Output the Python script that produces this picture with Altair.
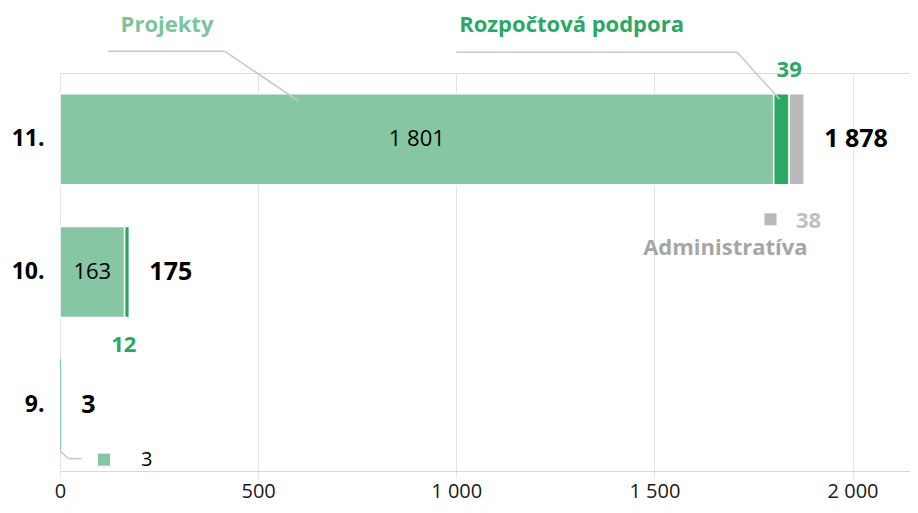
import altair as alt
import pandas as pd

categories = ["11.", "10.", "9."]
series = ["Projekty", "Rozpočtová podpora", "Administratíva"]
projekty = [1801, 163, 3]
rozpoctova = [39, 12, 0]
administrativa = [38, 0, 0]
bar_colors = ["#86C6A2", "#2BA866", "#B9B9B9"]
name_colors = ["#7CC499", "#2BA866", "#A6A6A6"]
x_ticks = [0, 500, 1000, 1500, 2000]

FONT = "Open Sans"

rows = []
for i, c in enumerate(categories):
    for j, vals in enumerate([projekty, rozpoctova, administrativa]):
        rows.append({"cat": c, "series": series[j], "value": vals[i], "order": j})
df = pd.DataFrame(rows)
totals = pd.DataFrame({
    "cat": categories,
    "total": [p + r + a for p, r, a in zip(projekty, rozpoctova, administrativa)],
})

xs = alt.Scale(domain=[0, 2145], nice=False, zero=True)
ys = alt.Scale(domain=categories, paddingInner=0.314, paddingOuter=0.157)
fmt = "replace(format(datum.v, ','), ',', ' ')"

bars = alt.Chart(df).transform_filter("datum.value > 0").mark_bar(strokeWidth=1.5).encode(
    x=alt.X("value:Q", scale=xs, stack="zero", title=None,
            axis=alt.Axis(values=x_ticks, grid=True, gridColor="#E3E3E3",
                          tickColor="#E3E3E3", tickSize=7, domainColor="#D9D9D9",
                          labelFontSize=20, labelColor="#1A1A1A", labelFont=FONT,
                          labelPadding=3, labelFlush=False,
                          labelExpr="replace(datum.label, ',', ' ')")),
    y=alt.Y("cat:N", scale=ys, sort=categories, title=None,
            axis=alt.Axis(ticks=False, domain=False, grid=False, labelFontSize=23,
                          labelFontWeight="bold", labelColor="#000000", labelFont=FONT,
                          labelPadding=16)),
    color=alt.Color("series:N", scale=alt.Scale(domain=series, range=bar_colors), legend=None),
    stroke=alt.condition("datum.value >= 10", alt.value("white"), alt.value("transparent")),
    order=alt.Order("order:Q"),
)

# value of Projekty segments written inside the bar
inside_df = pd.DataFrame({"cat": categories[:2], "v": projekty[:2]})
inside = alt.Chart(inside_df).transform_calculate(
    mid="datum.v / 2", t=fmt
).mark_text(font=FONT, fontSize=22, color="#000000").encode(
    x=alt.X("mid:Q", scale=xs), y=alt.Y("cat:N", scale=ys, sort=categories), text="t:N"
)

total_text = alt.Chart(totals).transform_calculate(
    v="datum.total", t=fmt
).mark_text(font=FONT, fontSize=25, fontWeight="bold", color="#000000",
            align="left", dx=20).encode(
    x=alt.X("total:Q", scale=xs), y=alt.Y("cat:N", scale=ys, sort=categories), text="t:N"
)

def note(cat, x, text, dy, size, color, weight="bold"):
    d = pd.DataFrame({"cat": [cat], "x": [x], "t": [text]})
    return alt.Chart(d).mark_text(font=FONT, fontSize=size, fontWeight=weight,
                                  color=color, dy=dy).encode(
        x=alt.X("x:Q", scale=xs), y=alt.Y("cat:N", scale=ys, sort=categories), text="t:N"
    )

def square(cat, x, dy, color):
    d = pd.DataFrame({"cat": [cat], "x": [x]})
    return alt.Chart(d).mark_square(size=144, opacity=1, color=color, yOffset=dy).encode(
        x=alt.X("x:Q", scale=xs), y=alt.Y("cat:N", scale=ys, sort=categories)
    )

def leader(cat, x1, x2, dy1, dy2):
    d = pd.DataFrame({"cat": [cat], "x1": [x1], "x2": [x2]})
    return alt.Chart(d).mark_rule(color="#C8C8C8", strokeWidth=1.5,
                                  yOffset=dy1, y2Offset=dy2).encode(
        x=alt.X("x1:Q", scale=xs), x2="x2:Q",
        y=alt.Y("cat:N", scale=ys, sort=categories), y2="cat:N"
    )

layers = [
    bars, inside, total_text,
    note("11.", 270, series[0], -114, 22, name_colors[0]),
    note("11.", 1291, series[1], -114, 22, name_colors[1]),
    note("11.", 1679, series[2], 109, 22, name_colors[2]),
    note("11.", 1840, str(rozpoctova[0]), -69, 22, name_colors[1]),
    note("10.", 161, str(rozpoctova[1]), 73, 22, name_colors[1]),
    note("11.", 1889, str(administrativa[0]), 82, 22, "#BFBFBF"),
    square("11.", 1793, 80, "#B9B9B9"),
    note("9.", 219, str(projekty[2]), 55, 20, "#000000", weight="normal"),
    square("9.", 111, 55, bar_colors[0]),
    leader("11.", 121, 416, -88, -88),
    leader("11.", 416, 603, -88, -38),
    leader("11.", 1000, 1709, -87, -87),
    leader("11.", 1709, 1816, -87, -40),
    leader("9.", 0, 21, 46, 54),
    leader("9.", 21, 55, 54, 54),
]

chart = alt.layer(*layers).properties(
    width=850, height=398,
    autosize=alt.AutoSizeParams(type="none"),
    padding={"left": 52, "top": 65, "right": 0, "bottom": 34},
).configure_view(stroke=None).configure(font=FONT)

chart.save("out.html", embed_options={"renderer": "svg", "actions": False})
